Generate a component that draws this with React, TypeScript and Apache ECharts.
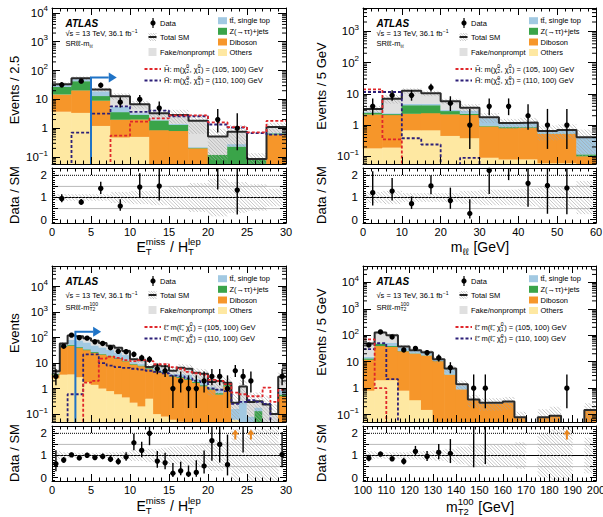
import React, { useEffect, useRef } from "react";
import * as echarts from "echarts";

const FONT = "'Liberation Sans', Arial, Helvetica, sans-serif";

// ---------- Panel 1: E_T^miss / H_T^lep in SRll-mll (bins of 2.5) ----------
const p1BinStart = 0;
const p1BinWidth = 2.5;
const p1Others = [3.7, 3.4, 1.2, 0.48, 0.5, 0.02, 0.02, 0.01, 0, 0, 0, 0];
const p1Diboson = [11, 17, 7.8, 1.5, 1.5, 0.83, 0.78, 0.19, 0.04, 0.04, 0.01, 0.6];
const p1Zjets = [12, 22, 4, 1.6, 0.9, 1.0, 0.5, 0.01, 0.08, 0.19, 0.07, 0.06];
const p1Top = [5, 8, 6, 2, 0.4, 0.15, 0.1, 0.01, 0, 0.05, 0, 0.04];
const p1Fake = [2, 4, 3, 7.4, 3.5, 1.3, 1.5, 1.6, 0.4, 0.47, 0.005, 0.4];
const p1Data = [32, 43, 31, 8, 10, 5, 0, 0, 2, 1, 0, 0];
const p1Unc = [0.15, 0.15, 0.15, 0.25, 0.3, 0.35, 0.5, 0.65, 0.85, 0.7, 0.6, 0.4];
const p1SigA = [0, 0, 0, 0.55, 1.7, 2.2, 2.8, 2.8, 1.6, 1.1, 0.72, 1.8];
const p1SigB = [0, 0.7, 3.2, 5.7, 3.7, 4.1, 2.6, 2.6, 1.35, 1.05, 0.68, 0.6];
const p1Cut = { x: 5, level: 58, tip: 8.3 };

// ---------- Panel 2: m_ll in SRll-mll (5 GeV bins) ----------
const p2BinStart = 0;
const p2BinWidth = 5;
const p2Others = [0.18, 0.19, 0.68, 0.68, 0.45, 0.38, 0.09, 0.08, 0.08, 0.06, 0.06, 0];
const p2Diboson = [2.0, 1.9, 1.62, 1.72, 1.75, 1.72, 0.81, 0.72, 0.74, 0.46, 0.46, 0.1];
const p2Zjets = [0.3, 0.15, 2.0, 1.9, 0.6, 0.2, 0.05, 0.05, 0.04, 0.01, 0.01, 0.015];
const p2Top = [0.2, 0.15, 0.5, 0.5, 0.3, 0.6, 0.7, 0.3, 0.34, 0.1, 0.15, 0.285];
const p2Fake = [0.6, 4.6, 7.7, 5.7, 2.7, 0.7, 0.15, 0.02, 0.02, 0.02, 0.02, 0.01];
const p2Data = [4, 9, 9, 16, 5, 1, 4, 4, 2, 1, 1, 0];
const p2Unc = [0.25, 0.3, 0.2, 0.2, 0.2, 0.3, 0.35, 0.35, 0.4, 0.5, 0.5, 0.75];
const p2SigA = [14, 0.35, 0, 0, 0, 0, 0, 0, 0, 0, 0, 0];
const p2SigB = [11.5, 11.5, 0.38, 0.24, 0, 0.09, 0, 0, 0, 0, 0, 0];

// ---------- Panel 3: E_T^miss / H_T^lep in SRll-mT2 (bins of 1) ----------
const p3BinStart = 0;
const p3BinWidth = 1;
const p3Others = [2.5, 3.5, 3.6, 2.8, 1.8, 1.4, 1.0, 0.8, 0.6, 0.45, 0.28, 0.2, 0.4, 0.1, 0.08, 0.06, 0.05, 0, 0, 0, 0, 0, 0, 0.06, 0, 0, 0, 0, 0, 0];
const p3Diboson = [1.0, 39, 44, 36, 30, 23.6, 20.4, 17.6, 13.9, 11.2, 8.4, 7.3, 5.5, 4.7, 4.0, 2.9, 2.55, 2.2, 1.66, 1.23, 0.9, 0.58, 1.2, 0, 0.03, 0.03, 0.03, 0, 0, 0.5];
const p3Zjets = [0.3, 3, 4, 3, 2.5, 2, 1.5, 1.2, 1, 0.8, 0.6, 0.5, 0.4, 0.35, 0.3, 0.25, 0.2, 0.2, 0.15, 0.12, 0.1, 0.08, 0.4, 0, 0, 0, 0.1, 0, 0, 0.08];
const p3Top = [0.1, 6, 30, 35, 30, 22, 18, 13, 10, 8, 1.6, 1.5, 0.5, 1, 1, 0.6, 1, 1, 0.6, 0.5, 0.2, 0.3, 0.05, 0.1, 0.3, 0.05, 0.05, 0.05, 0, 0.3];
const p3Fake = [0.9, 6.5, 40, 35, 30, 26, 21, 15.4, 14.5, 9.5, 3.1, 3.5, 0.2, 1.85, 2.1, 1.2, 2.7, 2.6, 1.8, 1.95, 0.6, 1.04, 0.05, 0.12, 0.87, 0.22, 0.14, 0.19, 0.1, 2.0];
const p3Data = [3, 46, 125, 99, 95, 68, 59, 40, 29, 28, 22, 16, 14, 6, 5, 1, 2, 1, 1, 2, 3, 3, 1, 5, 3, 2, 0, 0, 0, 3];
const p3Unc = [0.2, 0.15, 0.12, 0.12, 0.12, 0.12, 0.13, 0.15, 0.15, 0.18, 0.25, 0.25, 0.3, 0.3, 0.35, 0.4, 0.4, 0.45, 0.5, 0.55, 0.7, 0.7, 0.6, 1.2, 0.8, 1.2, 1.2, 1.2, 1.5, 0.5];
const p3SigA = [0, 0, 0, 0, 1.7, 2.0, 15, 18, 16, 13, 12, 13, 12, 9, 9, 7, 6, 4.5, 4, 3.5, 2.2, 2.0, 1.5, 0.7, 0.6, 0.5, 0.5, 1.1, 0.3, 0.9];
const p3SigB = [0, 0, 0.6, 0.6, 22, 22, 10, 8, 7, 6.5, 6, 5.5, 5, 4.5, 4, 3.2, 3, 2.5, 2, 1.8, 1.0, 0.9, 0.8, 0.25, 0.3, 0.35, 0.3, 0.25, 0, 0];
const p3Cut = { x: 3, level: 170, tip: 6.3 };

// ---------- Panel 4: m_T2^100 in SRll-mT2 (5 GeV bins) ----------
const p4BinStart = 100;
const p4BinWidth = 5;
const p4Others = [0.8, 2.0, 2.0, 0.8, 0.35, 0.15, 0, 0, 0, 0, 0, 0, 0, 0, 0, 0, 0, 0, 0, 0];
const p4Diboson = [11, 37, 34, 24, 20, 17, 10.5, 3.2, 0.9, 0.35, 0.26, 0.26, 0.29, 0.08, 0, 0.08, 0.09, 0, 0, 0.15];
const p4Zjets = [1.5, 8, 3, 0.5, 0.3, 0.2, 0.1, 0.05, 0, 0, 0, 0, 0, 0, 0, 0, 0, 0, 0, 0];
const p4Top = [2, 5, 12, 8, 5, 4.5, 1.5, 2, 0.3, 0.02, 0.02, 0.02, 0.02, 0, 0, 0, 0, 0.01, 0, 0];
const p4Fake = [33.7, 74, 50, 4.7, 1.35, 1.15, 0.2, 0.25, 0.2, 0, 0, 0, 0, 0, 0, 0, 0, 0, 0, 0];
const p4Data = [43, 134, 86, 28, 32, 22, 14, 6, 0, 1, 1, 0, 0, 0, 0, 0, 0, 1, 0, 0];
const p4Unc = [0.2, 0.15, 0.15, 0.15, 0.18, 0.2, 0.25, 0.3, 0.4, 0.5, 0.5, 0.5, 0.5, 0.6, 0.8, 1.0, 1.2, 1.3, 1.2, 0.8];
const p4SigA = [70, 1.0, 0, 0, 0, 0, 0, 0, 0, 0, 0, 0, 0, 0, 0, 0, 0, 0, 0, 0];
const p4SigB = [30, 50, 2.2, 0, 0, 0, 0, 0, 0, 0, 0, 0, 0, 0, 0, 0, 0, 0, 0, 0];

// Garwood 68% Poisson intervals for small counts
const garwoodLow = [0, 0.173, 0.708, 1.367, 2.086, 2.84, 3.62, 4.419, 5.232, 6.057, 6.891];
const garwoodHigh = [1.841, 3.3, 4.638, 5.918, 7.163, 8.382, 9.584, 10.77, 11.95, 13.11, 14.27];
function poissonBand(n: number): [number, number] {
  if (n <= 10) return [garwoodLow[n], garwoodHigh[n]];
  const s = Math.sqrt(n);
  return [n - s, n + s + 1];
}

const C_OTHERS = "#fee8a2";
const C_DIBOSON = "#f6962a";
const C_Z = "#3aa449";
const C_TOP = "#a2c9e2";
const C_FAKE = "#e0e0e0";
const STACK_COLORS = [C_OTHERS, C_DIBOSON, C_Z, C_TOP, C_FAKE];
const RED = "#e0262b";
const NAVY = "#2c1f78";
const CUTC = "#1f73c6";
const ARROWC = "#e8851c";
const HATCH = "#a3a3a3";
const R_MIN = -0.15;
const R_MAX = 2.33;
const LEG = 7.5;

type Part = { t?: string; sup?: string; sub?: string };

const SR_MLL: Part[] = [{ t: "SR\u2113\u2113-m" }, { sub: "\u2113\u2113" }];
const SR_MT2: Part[] = [{ t: "SR\u2113\u2113-m" }, { sup: "100", sub: "T2" }];
const SIG_H_A: Part[] = [{ t: "H\u0303: m(\u03C7\u0303" }, { sup: "0", sub: "2" }, { t: ", \u03C7\u0303" }, { sup: "0", sub: "1" }, { t: ") = (105, 100) GeV" }];
const SIG_H_B: Part[] = [{ t: "H\u0303: m(\u03C7\u0303" }, { sup: "0", sub: "2" }, { t: ", \u03C7\u0303" }, { sup: "0", sub: "1" }, { t: ") = (110, 100) GeV" }];
const SIG_L_A: Part[] = [{ t: "\u2113\u0303: m(\u2113\u0303, \u03C7\u0303" }, { sup: "0", sub: "1" }, { t: ") = (105, 100) GeV" }];
const SIG_L_B: Part[] = [{ t: "\u2113\u0303: m(\u2113\u0303, \u03C7\u0303" }, { sup: "0", sub: "1" }, { t: ") = (110, 100) GeV" }];
const XT_RATIO: Part[] = [{ t: "E" }, { sup: "miss", sub: "T" }, { t: " / H" }, { sup: "lep", sub: "T" }];
const XT_MLL: Part[] = [{ t: "m" }, { sub: "\u2113\u2113" }, { t: " [GeV]" }];
const XT_MT2: Part[] = [{ t: "m" }, { sup: "100", sub: "T2" }, { t: " [GeV]" }];

const PANELS: any[] = [
  {
    left: 52, top: 8, width: 234, mainH: 156, ratioTop: 168, ratioH: 55,
    xMin: 0, xMax: 30, xInterval: 5, yMin: 0.0575, yMax: 14800,
    binStart: p1BinStart, binWidth: p1BinWidth,
    stack: [p1Others, p1Diboson, p1Zjets, p1Top, p1Fake],
    data: p1Data, unc: p1Unc, sigA: p1SigA, sigB: p1SigB, cut: p1Cut,
    yTitle: "Events / 2.5", yTitlePos: [14, 90], rTitlePos: [14, 195],
    xTitle: XT_RATIO, xTitlePos: [169, 247],
    sr: SR_MLL, sigTextA: SIG_H_A, sigTextB: SIG_H_B, lumiY: 25.5, srY: 35.5,
  },
  {
    left: 363, top: 8, width: 233, mainH: 156, ratioTop: 168, ratioH: 55,
    xMin: 0, xMax: 60, xInterval: 10, yMin: 0.0569, yMax: 5620,
    binStart: p2BinStart, binWidth: p2BinWidth,
    stack: [p2Others, p2Diboson, p2Zjets, p2Top, p2Fake],
    data: p2Data, unc: p2Unc, sigA: p2SigA, sigB: p2SigB, cut: null,
    yTitle: "Events / 5 GeV", yTitlePos: [321, 86], rTitlePos: [321, 195],
    xTitle: XT_MLL, xTitlePos: [480, 247],
    sr: SR_MLL, sigTextA: SIG_H_A, sigTextB: SIG_H_B, lumiY: 25.5, srY: 35.5,
  },
  {
    left: 52, top: 266, width: 234, mainH: 156, ratioTop: 426, ratioH: 55,
    xMin: 0, xMax: 30, xInterval: 5, yMin: 0.049, yMax: 64000,
    binStart: p3BinStart, binWidth: p3BinWidth,
    stack: [p3Others, p3Diboson, p3Zjets, p3Top, p3Fake],
    data: p3Data, unc: p3Unc, sigA: p3SigA, sigB: p3SigB, cut: p3Cut,
    yTitle: "Events", yTitlePos: [14, 333], rTitlePos: [14, 453],
    xTitle: XT_RATIO, xTitlePos: [169, 506],
    sr: SR_MT2, sigTextA: SIG_L_A, sigTextB: SIG_L_B, lumiY: 29.5, srY: 41,
  },
  {
    left: 363, top: 266, width: 233, mainH: 156, ratioTop: 426, ratioH: 55,
    xMin: 100, xMax: 200, xInterval: 10, yMin: 0.0525, yMax: 41700,
    binStart: p4BinStart, binWidth: p4BinWidth,
    stack: [p4Others, p4Diboson, p4Zjets, p4Top, p4Fake],
    data: p4Data, unc: p4Unc, sigA: p4SigA, sigB: p4SigB, cut: null,
    yTitle: "Events / 5 GeV", yTitlePos: [321, 332], rTitlePos: [321, 453],
    xTitle: XT_MT2, xTitlePos: [480, 507],
    sr: SR_MT2, sigTextA: SIG_L_A, sigTextB: SIG_L_B, lumiY: 29.5, srY: 41,
  },
];

let measureCtx: CanvasRenderingContext2D | null = null;
function measure(s: string, size: number, weight = "normal", style = "normal"): number {
  if (!measureCtx) measureCtx = document.createElement("canvas").getContext("2d");
  if (!measureCtx) return s.length * size * 0.55;
  measureCtx.font = `${style} ${weight} ${size}px "Liberation Sans", Arial, sans-serif`;
  return measureCtx.measureText(s).width;
}

function textEl(text: string, x: number, y: number, size: number, extra: any = {}) {
  return {
    type: "text", x, y, silent: true, z: 100,
    style: { text, fontSize: size, fontFamily: FONT, fill: "#000", align: "left", verticalAlign: "middle", ...extra },
  };
}

function scriptText(parts: Part[], x: number, y: number, size: number, align: "left" | "center") {
  const small = size * 0.68;
  const widths = parts.map((p) =>
    p.t !== undefined ? measure(p.t, size) : Math.max(measure(p.sup || "", small), measure(p.sub || "", small)) + size * 0.06
  );
  const total = widths.reduce((a, b) => a + b, 0);
  let cx = align === "center" ? x - total / 2 : x;
  const els: any[] = [];
  parts.forEach((p, i) => {
    if (p.t !== undefined) els.push(textEl(p.t, cx, y, size));
    else {
      if (p.sup) els.push(textEl(p.sup, cx, y - size * 0.4, small));
      if (p.sub) els.push(textEl(p.sub, cx, y + size * 0.32, small));
    }
    cx += widths[i];
  });
  return els;
}

function hatchSegs(x0: number, x1: number, yT: number, yB: number, s: number) {
  const segs: number[][] = [];
  const cStart = Math.ceil((x0 - yB) / s) * s;
  for (let c = cStart; c <= x1 - yT; c += s) {
    const xa = Math.max(x0, yT + c);
    const xb = Math.min(x1, yB + c);
    if (xb > xa) segs.push([xa, xa - c, xb, xb - c]);
  }
  return segs;
}
const hatchEls = (segs: number[][], z = 0) =>
  segs.map((s) => ({ type: "line", z, shape: { x1: s[0], y1: s[1], x2: s[2], y2: s[3] }, style: { stroke: HATCH, lineWidth: 0.6 } }));

function logLabel(v: number) {
  const e = Math.log10(v);
  const r = Math.round(e);
  if (Math.abs(e - r) > 1e-6) return "";
  if (r === 0) return "1";
  if (r === 1) return "10";
  return "10{sup|" + (r < 0 ? "\u2212" + -r : String(r)) + "}";
}

const axisLine = { show: true, onZero: false, lineStyle: { color: "#000", width: 1 } };

function xCfg(p: any, gridIndex: number, position: string, labels: boolean) {
  return {
    type: "value", gridIndex, position, min: p.xMin, max: p.xMax, interval: p.xInterval, z: 10,
    axisLine,
    axisTick: { show: true, inside: true, length: 7, lineStyle: { color: "#000", width: 1 } },
    minorTick: { show: true, splitNumber: 5, length: 3.5, lineStyle: { color: "#000", width: 1 } },
    axisLabel: { show: labels, color: "#000", fontSize: 11, fontFamily: FONT, margin: 3 },
    splitLine: { show: false },
    minorSplitLine: { show: false },
  };
}
function yLogCfg(p: any, gridIndex: number, position: string, labels: boolean) {
  return {
    type: "log", logBase: 10, gridIndex, position, min: p.yMin, max: p.yMax, z: 10,
    axisLine,
    axisTick: { show: true, inside: true, length: 8, lineStyle: { color: "#000", width: 1 } },
    axisLabel: {
      show: labels, color: "#000", fontSize: 11.5, fontFamily: FONT, margin: 4,
      showMinLabel: false, showMaxLabel: false, formatter: logLabel,
      rich: { sup: { fontSize: 8, fontFamily: FONT, color: "#000", padding: [0, 0, 8, 0] } },
    },
    splitLine: { show: false },
  };
}
function yRatioCfg(gridIndex: number, position: string, labels: boolean) {
  return {
    type: "value", gridIndex, position, min: R_MIN, max: R_MAX, splitNumber: 5, z: 10,
    axisLine,
    axisTick: { show: true, inside: true, length: 6, lineStyle: { color: "#000", width: 1 } },
    minorTick: { show: true, splitNumber: 5, length: 3, lineStyle: { color: "#000", width: 1 } },
    axisLabel: {
      show: labels, color: "#000", fontSize: 11.5, fontFamily: FONT, margin: 5,
      showMinLabel: false, showMaxLabel: false,
      formatter: (v: number) => (Math.abs(v - Math.round(v)) < 1e-6 && v > -0.01 ? String(Math.round(v)) : ""),
    },
    splitLine: { show: false },
    minorSplitLine: { show: false },
  };
}

function legendEls(p: any) {
  const ox = p.left, oy = p.top;
  const els: any[] = [];
  els.push(textEl("ATLAS", ox + 13.5, oy + 15, 10, { fontWeight: "bold", fontStyle: "italic" }));
  els.push(...scriptText([{ t: "\u221As = 13 TeV, 36.1 fb" }, { sup: "\u22121" }], ox + 13.5, oy + p.lumiY, LEG, "left"));
  els.push(...scriptText(p.sr, ox + 13.5, oy + p.srY, LEG, "left"));
  // Data
  els.push({ type: "line", z: 100, shape: { x1: ox + 101, y1: oy + 10, x2: ox + 101, y2: oy + 20 }, style: { stroke: "#000", lineWidth: 1.2 } });
  els.push({ type: "circle", z: 100, shape: { cx: ox + 101, cy: oy + 15, r: 2.6 }, style: { fill: "#000" } });
  els.push(textEl("Data", ox + 108, oy + 15, LEG));
  // Total SM
  const ty = oy + 29;
  els.push(...hatchEls(hatchSegs(ox + 96.5, ox + 104.5, ty - 4, ty + 4, 2.5), 100));
  els.push({ type: "line", z: 101, shape: { x1: ox + 96.5, y1: ty, x2: ox + 104.5, y2: ty }, style: { stroke: "#222", lineWidth: 2 } });
  els.push(textEl("Total SM", ox + 108, ty, LEG));
  // Fake
  els.push({ type: "rect", z: 100, shape: { x: ox + 96.5, y: oy + 40, width: 8, height: 8 }, style: { fill: C_FAKE } });
  els.push(textEl("Fake/nonprompt", ox + 108, oy + 44, LEG));
  // right column
  const rows: [string, string, number][] = [
    ["tt\u0304, single top", C_TOP, 12.7],
    ["Z(\u2192\u03C4\u03C4)+jets", C_Z, 23.3],
    ["Diboson", C_DIBOSON, 34],
    ["Others", C_OTHERS, 44.5],
  ];
  rows.forEach(([label, col, ry]) => {
    els.push({ type: "rect", z: 100, shape: { x: ox + 166, y: oy + ry - 3.5, width: 9, height: 7 }, style: { fill: col } });
    els.push(textEl(label, ox + 177.5, oy + ry, LEG));
  });
  // signals
  els.push({ type: "line", z: 100, shape: { x1: ox + 92.5, y1: oy + 61, x2: ox + 109, y2: oy + 61 }, style: { stroke: RED, lineWidth: 1.8, lineDash: [3, 2] } });
  els.push(...scriptText(p.sigTextA, ox + 112, oy + 61, LEG, "left"));
  els.push({ type: "line", z: 100, shape: { x1: ox + 92.5, y1: oy + 72.5, x2: ox + 109, y2: oy + 72.5 }, style: { stroke: NAVY, lineWidth: 1.8, lineDash: [3, 2] } });
  els.push(...scriptText(p.sigTextB, ox + 112, oy + 72.5, LEG, "left"));
  return els;
}

function buildOption() {
  const grid: any[] = [];
  const xAxis: any[] = [];
  const yAxis: any[] = [];
  const series: any[] = [];
  const elements: any[] = [];

  PANELS.forEach((p) => {
    const n = p.stack[0].length;
    const edge = (i: number) => p.binStart + i * p.binWidth;
    const center = (i: number) => p.binStart + (i + 0.5) * p.binWidth;
    const totals: number[] = Array.from({ length: n }, (_, i) => p.stack.reduce((s: number, a: number[]) => s + a[i], 0));
    const stepPts = (vals: number[]) => {
      const pts = vals.map((v, i) => [edge(i), v > 0 ? v : 1e-4]);
      pts.push([edge(n), vals[n - 1] > 0 ? vals[n - 1] : 1e-4]);
      return pts;
    };

    const gM = grid.length;
    grid.push({ left: p.left, top: p.top, width: p.width, height: p.mainH, containLabel: false, outerBoundsMode: "none" });
    const gR = grid.length;
    grid.push({ left: p.left, top: p.ratioTop, width: p.width, height: p.ratioH, containLabel: false, outerBoundsMode: "none" });
    const xM = xAxis.length;
    xAxis.push(xCfg(p, gM, "bottom", false), xCfg(p, gM, "top", false));
    const xR = xAxis.length;
    xAxis.push(xCfg(p, gR, "bottom", true), xCfg(p, gR, "top", false));
    const yM = yAxis.length;
    yAxis.push(yLogCfg(p, gM, "left", true), yLogCfg(p, gM, "right", false));
    const yR = yAxis.length;
    yAxis.push(yRatioCfg(gR, "left", true), yRatioCfg(gR, "right", false));

    const binData = totals.map((t, i) => [edge(i), edge(i + 1), Math.max(t, p.yMin * 1.5)]);

    // stacked backgrounds
    series.push({
      type: "custom", xAxisIndex: xM, yAxisIndex: yM, z: 2, silent: true,
      encode: { x: [0, 1], y: 2 }, data: binData,
      renderItem: (params: any, api: any) => {
        const i = params.dataIndex;
        const x0 = api.value(0), x1 = api.value(1);
        let cum = 0;
        const children: any[] = [];
        p.stack.forEach((arr: number[], c: number) => {
          const v = arr[i];
          if (!(v > 0)) return;
          const b = cum;
          cum += v;
          if (cum <= p.yMin) return;
          const pb = api.coord([x0, Math.max(b, p.yMin)]);
          const pt = api.coord([x1, Math.min(cum, p.yMax)]);
          children.push({
            type: "rect",
            shape: { x: pb[0] - 0.3, y: pt[1] - 0.2, width: pt[0] - pb[0] + 0.6, height: pb[1] - pt[1] + 0.2 },
            style: { fill: STACK_COLORS[c] },
          });
        });
        return { type: "group", children };
      },
    });
    // uncertainty hatch (main)
    series.push({
      type: "custom", xAxisIndex: xM, yAxisIndex: yM, z: 3, silent: true,
      encode: { x: [0, 1], y: 2 }, data: binData,
      renderItem: (params: any, api: any) => {
        const i = params.dataIndex;
        const t = totals[i];
        if (!(t > 0)) return { type: "group", children: [] };
        const u = p.unc[i];
        const lo = Math.max(t * (1 - u), p.yMin);
        const hi = Math.min(t * (1 + u), p.yMax);
        if (hi <= p.yMin) return { type: "group", children: [] };
        const a = api.coord([api.value(0), hi]);
        const b = api.coord([api.value(1), lo]);
        return { type: "group", children: hatchEls(hatchSegs(a[0], b[0], a[1], b[1], 3.5)) };
      },
    });
    // total SM outline
    series.push({
      type: "line", xAxisIndex: xM, yAxisIndex: yM, z: 4, silent: true, step: "end", symbol: "none",
      data: stepPts(totals), lineStyle: { color: "#2a2a2a", width: 2 },
    });
    // signals
    series.push({
      type: "line", xAxisIndex: xM, yAxisIndex: yM, z: 5, silent: true, step: "end", symbol: "none",
      data: stepPts(p.sigB), lineStyle: { color: NAVY, width: 1.8, type: [3, 2] },
    });
    series.push({
      type: "line", xAxisIndex: xM, yAxisIndex: yM, z: 5, silent: true, step: "end", symbol: "none",
      data: stepPts(p.sigA), lineStyle: { color: RED, width: 1.8, type: [3, 2] },
    });
    // data points
    series.push({
      type: "custom", xAxisIndex: xM, yAxisIndex: yM, z: 6, silent: true,
      encode: { x: 0, y: 1 },
      data: p.data.map((nn: number, i: number) => [center(i), nn]).filter((d: number[]) => d[1] > 0),
      renderItem: (params: any, api: any) => {
        const x = api.value(0), nn = api.value(1);
        const [lo, hi] = poissonBand(nn);
        const c = api.coord([x, nn]);
        const yl = api.coord([x, Math.max(lo, p.yMin)])[1];
        const yh = api.coord([x, Math.min(hi, p.yMax)])[1];
        return {
          type: "group",
          children: [
            { type: "line", shape: { x1: c[0], y1: yl, x2: c[0], y2: yh }, style: { stroke: "#000", lineWidth: 1.4 } },
            { type: "circle", shape: { cx: c[0], cy: c[1], r: 2.7 }, style: { fill: "#000" } },
          ],
        };
      },
    });
    // log minor ticks
    series.push({
      type: "custom", xAxisIndex: xM, yAxisIndex: yM, z: 11, silent: true,
      encode: { x: 0, y: 1 }, data: [[p.xMin, 1]],
      renderItem: (params: any, api: any) => {
        const children: any[] = [];
        const lx = api.coord([p.xMin, 1])[0];
        const rx = api.coord([p.xMax, 1])[0];
        for (let d = Math.floor(Math.log10(p.yMin)); d <= Math.ceil(Math.log10(p.yMax)); d++) {
          for (let m = 2; m <= 9; m++) {
            const v = m * Math.pow(10, d);
            if (v <= p.yMin || v >= p.yMax) continue;
            const y = api.coord([p.xMin, v])[1];
            children.push({ type: "line", shape: { x1: lx, y1: y, x2: lx + 4, y2: y }, style: { stroke: "#000", lineWidth: 1 } });
            children.push({ type: "line", shape: { x1: rx, y1: y, x2: rx - 4, y2: y }, style: { stroke: "#000", lineWidth: 1 } });
          }
        }
        return { type: "group", children };
      },
    });
    // cut arrow
    if (p.cut) {
      series.push({
        type: "custom", xAxisIndex: xM, yAxisIndex: yM, z: 7, silent: true,
        encode: { x: 0, y: 1 }, data: [[p.cut.x, p.cut.level, p.cut.tip]],
        renderItem: (params: any, api: any) => {
          const x = api.value(0), lvl = api.value(1), tip = api.value(2);
          const pb = api.coord([x, p.yMin]);
          const pl = api.coord([x, lvl]);
          const pt = api.coord([tip, lvl]);
          const hb = pt[0] - 8;
          return {
            type: "group",
            children: [
              { type: "polyline", shape: { points: [[pb[0], pb[1]], [pl[0], pl[1]], [hb, pl[1]]] }, style: { stroke: CUTC, lineWidth: 2, fill: "none" } },
              { type: "polygon", shape: { points: [[hb, pl[1] - 5], [pt[0], pl[1]], [hb, pl[1] + 5]] }, style: { fill: CUTC } },
            ],
          };
        },
      });
    }

    // ratio reference lines
    const hline = (v: number, color: string, type: any, width: number) => ({
      type: "line", xAxisIndex: xR, yAxisIndex: yR, z: 1, silent: true, symbol: "none",
      data: [[p.xMin, v], [p.xMax, v]], lineStyle: { color, type, width },
    });
    series.push(hline(2, "#000", "dotted", 1), hline(1.5, "#a8a8a8", "solid", 0.8), hline(0.5, "#a8a8a8", "solid", 0.8), hline(1, "#000", "solid", 1.2));
    // ratio hatch
    series.push({
      type: "custom", xAxisIndex: xR, yAxisIndex: yR, z: 3, silent: true,
      encode: { x: [0, 1], y: 2 },
      data: totals.map((t, i) => [edge(i), edge(i + 1), 1]),
      renderItem: (params: any, api: any) => {
        const i = params.dataIndex;
        if (!(totals[i] > 0)) return { type: "group", children: [] };
        const u = p.unc[i];
        const a = api.coord([api.value(0), Math.min(1 + u, R_MAX)]);
        const b = api.coord([api.value(1), Math.max(1 - u, R_MIN)]);
        return { type: "group", children: hatchEls(hatchSegs(a[0], b[0], a[1], b[1], 3.5)) };
      },
    });
    // ratio points
    const ratioPts: number[][] = [];
    p.data.forEach((nn: number, i: number) => {
      const t = totals[i];
      if (nn > 0 && t > 0) {
        const [lo, hi] = poissonBand(nn);
        ratioPts.push([center(i), nn / t, lo / t, hi / t]);
      }
    });
    series.push({
      type: "custom", xAxisIndex: xR, yAxisIndex: yR, z: 6, silent: true,
      encode: { x: 0, y: 1 }, data: ratioPts,
      renderItem: (params: any, api: any) => {
        const x = api.value(0), r = api.value(1), rl = api.value(2), rh = api.value(3);
        const cx = api.coord([x, 1])[0];
        const Y = (v: number) => api.coord([x, v])[1];
        const children: any[] = [];
        if (r <= R_MAX) {
          children.push({ type: "line", shape: { x1: cx, y1: Y(Math.max(rl, R_MIN)), x2: cx, y2: Y(Math.min(rh, R_MAX)) }, style: { stroke: "#000", lineWidth: 1.4 } });
          children.push({ type: "circle", shape: { cx, cy: Y(r), r: 2.7 }, style: { fill: "#000" } });
        } else if (rl < R_MAX) {
          children.push({ type: "line", shape: { x1: cx, y1: Y(rl), x2: cx, y2: Y(R_MAX) }, style: { stroke: "#000", lineWidth: 1.4 } });
        } else {
          children.push({ type: "line", shape: { x1: cx, y1: Y(1.72), x2: cx, y2: Y(2.0) }, style: { stroke: ARROWC, lineWidth: 2 } });
          children.push({ type: "polygon", shape: { points: [[cx - 3.5, Y(1.95)], [cx + 3.5, Y(1.95)], [cx, Y(2.17)]] }, style: { fill: ARROWC } });
        }
        return { type: "group", children };
      },
    });

    // titles and legend
    elements.push({
      type: "text", x: p.yTitlePos[0], y: p.yTitlePos[1], rotation: Math.PI / 2, silent: true, z: 100,
      style: { text: p.yTitle, fontSize: 13, fontFamily: FONT, fill: "#000", align: "center", verticalAlign: "middle" },
    });
    elements.push({
      type: "text", x: p.rTitlePos[0], y: p.rTitlePos[1], rotation: Math.PI / 2, silent: true, z: 100,
      style: { text: "Data / SM", fontSize: 13, fontFamily: FONT, fill: "#000", align: "center", verticalAlign: "middle" },
    });
    elements.push(...scriptText(p.xTitle, p.xTitlePos[0], p.xTitlePos[1], 14, "center"));
    elements.push(...legendEls(p));
  });

  return {
    animation: false,
    backgroundColor: "#fff",
    grid, xAxis, yAxis, series,
    graphic: { elements },
  };
}

export default function App() {
  const ref = useRef<HTMLDivElement>(null);
  useEffect(() => {
    if (!ref.current) return;
    const chart = echarts.init(ref.current, null, { renderer: "svg" });
    chart.setOption(buildOption() as any);
    return () => chart.dispose();
  }, []);
  return <div ref={ref} style={{ position: "fixed", left: 0, top: 0, width: 603, height: 517, background: "#fff" }} />;
}
